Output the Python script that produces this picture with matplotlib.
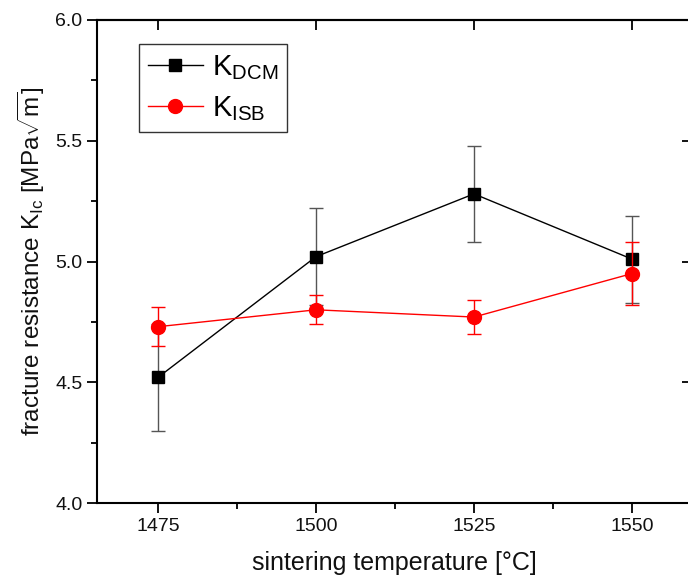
import matplotlib
matplotlib.use('Agg')
import matplotlib.pyplot as plt
from matplotlib.ticker import MultipleLocator
from matplotlib.lines import Line2D

plt.rcParams['font.family'] = ['Liberation Sans', 'DejaVu Sans']
plt.rcParams['mathtext.fontset'] = 'custom'
plt.rcParams['mathtext.rm'] = 'Liberation Sans'
plt.rcParams['mathtext.it'] = 'Liberation Sans'

# sintering temperature [C]
temps = [1475, 1500, 1525, 1550]

# K_DCM values and errors
k_dcm = [4.52, 5.02, 5.28, 5.01]
k_dcm_err = [0.22, 0.20, 0.20, 0.18]

# K_ISB values and errors
k_isb = [4.73, 4.80, 4.77, 4.95]
k_isb_err = [0.08, 0.06, 0.07, 0.13]

fig = plt.figure(figsize=(6.88, 5.8), dpi=100)
# axes placed in pixels: left spine at 97, right spine just past the edge
ax = fig.add_axes([97/688, 77/580, 595/688, 483/580])

ax.errorbar(temps, k_dcm, yerr=k_dcm_err, color='black', marker='s', markersize=8,
            linewidth=1, elinewidth=1, ecolor='#555555', capsize=5, capthick=1,
            zorder=3)
ax.errorbar(temps, k_isb, yerr=k_isb_err, color='red', marker='o', markersize=10,
            linewidth=1, elinewidth=1, ecolor='red', capsize=5, capthick=1,
            zorder=4)

ax.set_xlim(1465.35, 1559.5)
ax.set_ylim(4.0, 6.0)
ax.xaxis.set_major_locator(MultipleLocator(25))
ax.xaxis.set_minor_locator(MultipleLocator(12.5))
ax.yaxis.set_major_locator(MultipleLocator(0.5))
ax.yaxis.set_minor_locator(MultipleLocator(0.25))
ax.yaxis.set_major_formatter(matplotlib.ticker.FormatStrFormatter('%.1f'))

ax.tick_params(which='major', direction='out', length=7, width=1.3, labelsize=14,
               colors='black', labelcolor='#111111')
ax.tick_params(which='minor', direction='out', length=4, width=1.3)

# top and right ticks go inward, majors only
ax2 = ax.secondary_xaxis('top')
ax2.xaxis.set_major_locator(MultipleLocator(25))
ax2.tick_params(direction='in', length=7, width=1.3, labeltop=False)
ax3 = ax.secondary_yaxis('right')
ax3.yaxis.set_major_locator(MultipleLocator(0.5))
ax3.tick_params(direction='in', length=7, width=1.3, labelright=False)

for a in (ax, ax2, ax3):
    for s in a.spines.values():
        s.set_linewidth(1.5)

ax.set_xlabel('sintering temperature [°C]', fontsize=18, color='#111111', labelpad=12)
ax.set_ylabel(r'fracture resistance K$_{\mathrm{Ic}}$ [MPa$\sqrt{\mathrm{m}}$]',
              fontsize=17.5, color='#111111', labelpad=6)

# legend handles without the error bars
handles = [
    Line2D([], [], color='black', marker='s', markersize=8, linewidth=1),
    Line2D([], [], color='red', marker='o', markersize=10, linewidth=1),
]
labels = [r'K$_{\mathrm{DCM}}$', r'K$_{\mathrm{ISB}}$']
leg = ax.legend(handles, labels, loc='upper left', bbox_to_anchor=(42/595, 1 - 24/483),
                fontsize=21, frameon=True, fancybox=False, edgecolor='#333333',
                framealpha=1, handlelength=1.9, borderpad=0.3, labelspacing=0.45,
                handletextpad=0.3, borderaxespad=0)
leg.get_frame().set_linewidth(1.0)

fig.savefig('out.png', dpi=100)
